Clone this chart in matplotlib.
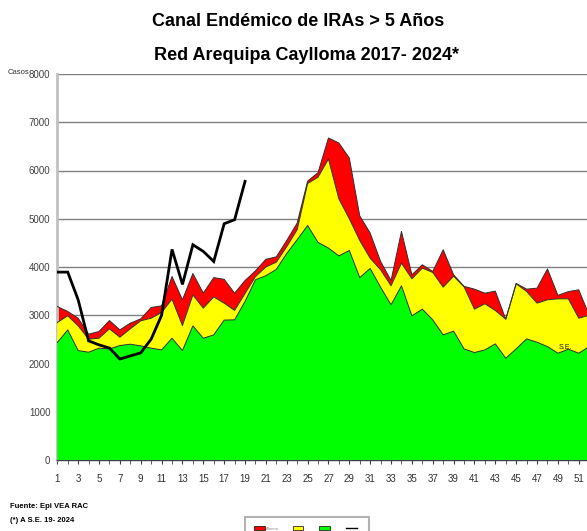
import matplotlib
matplotlib.use("Agg")
import matplotlib.pyplot as plt
from matplotlib.patches import Patch
from matplotlib.lines import Line2D

weeks = list(range(1, 53))
exito = [2434, 2697, 2268, 2234, 2317, 2303, 2372, 2400, 2365, 2317, 2282, 2524, 2268,
         2780, 2524, 2593, 2900, 2905, 3285, 3735, 3820, 3950, 4280, 4565, 4860, 4510,
         4392, 4230, 4343, 3780, 3970, 3580, 3216, 3610, 2988, 3126, 2905, 2593, 2670,
         2303, 2227, 2282, 2407, 2109, 2303, 2510, 2441, 2351, 2213, 2296, 2213, 2351]
seguridad = [2849, 2988, 2780, 2504, 2524, 2718, 2545, 2718, 2884, 2939, 3057, 3333, 2787,
             3420, 3147, 3380, 3250, 3100, 3450, 3800, 4000, 4100, 4420, 4772, 5730, 5860,
             6238, 5410, 5000, 4550, 4180, 3942, 3610, 4080, 3755, 3977, 3887, 3582, 3810,
             3590, 3126, 3237, 3098, 2918, 3652, 3492, 3251, 3320, 3340, 3340, 2939, 3000]
alarma = [3181, 3078, 2939, 2607, 2663, 2891, 2697, 2836, 2925, 3161, 3195, 3804, 3320,
          3865, 3458, 3780, 3745, 3458, 3720, 3920, 4160, 4210, 4550, 4910, 5780, 5955,
          6674, 6570, 6259, 5060, 4703, 4115, 3720, 4737, 3838, 4046, 3907, 4357, 3838,
          3600, 3541, 3458, 3500, 2918, 3660, 3541, 3562, 3960, 3413, 3490, 3527, 3000]
weeks_2024 = list(range(1, 20))
casos_2024 = [3894, 3894, 3320, 2470, 2386, 2320, 2092, 2158, 2220, 2505, 3000, 4365, 3640,
              4461, 4323, 4115, 4897, 4980, 5775]
xtick_labels = [str(w) for w in range(1, 52, 2)]
yticks = list(range(0, 8001, 1000))

font = ['Liberation Sans', 'DejaVu Sans']
W, H = 587, 531
fig = plt.figure(figsize=(W / 100, H / 100), dpi=100)
fig.patch.set_facecolor('white')

x0, x1 = 57.3, 589.2
y0, y1 = 460, 74
ax = fig.add_axes([x0 / W, 1 - y0 / H, (x1 - x0) / W, (y0 - y1) / H])
ax.set_xlim(1, 52)
ax.set_ylim(0, 8000)

for v in yticks[1:]:
    ax.axhline(v, color='#808080', lw=1.0, zorder=1)

edge = '#303030'
ax.fill_between(weeks, seguridad, alarma, facecolor='#ff0000', edgecolor='none', zorder=2)
ax.fill_between(weeks, exito, seguridad, facecolor='#ffff00', edgecolor='none', zorder=3)
ax.fill_between(weeks, 0, exito, facecolor='#00ff00', edgecolor='none', zorder=4)
ax.plot(weeks, alarma, color=edge, lw=0.7, zorder=5)
ax.plot(weeks, seguridad, color=edge, lw=0.7, zorder=5)
ax.plot(weeks, exito, color=edge, lw=0.7, zorder=5)
ax.plot(weeks_2024, casos_2024, color='black', lw=2.0, zorder=6, solid_joinstyle='miter')

ax.text(49.7, 2330, 'S.E.', fontsize=5, color='#202020', family=font, zorder=7,
        ha='center', va='center')

for s in ['top', 'right']:
    ax.spines[s].set_visible(False)
ax.spines['left'].set_color('#c0c0c0')
ax.spines['left'].set_linewidth(2)
ax.spines['bottom'].set_color('#404040')
ax.spines['bottom'].set_linewidth(1)
ax.set_yticks(yticks)
ax.set_yticklabels([str(v) for v in yticks], family=font, fontsize=7, color='#404040')
ax.tick_params(axis='y', length=0, pad=5)
ax.set_xticks(weeks, minor=True)
ax.set_xticks(list(range(1, 52, 2)))
ax.set_xticklabels(xtick_labels, family=font, fontsize=7, color='#303030')
ax.tick_params(axis='x', which='both', length=3, color='#404040', pad=7)

fig.text(8 / W, 1 - 73 / H, 'Casos', fontsize=5.5, family=font, color='#303030',
         ha='left', va='center')
fig.text(298 / W, 1 - 22 / H, 'Canal Endémico de IRAs > 5 Años', fontsize=13,
         fontweight='bold', family=font, ha='center', va='center')
fig.text(306 / W, 1 - 55 / H, 'Red Arequipa Caylloma 2017- 2024*', fontsize=13,
         fontweight='bold', family=font, ha='center', va='center')
fig.text(10 / W, 1 - 506 / H, 'Fuente: Epi VEA RAC', fontsize=5.5, fontweight='bold',
         family=font, ha='left', va='center')
fig.text(10 / W, 1 - 521 / H, '(*) A S.E. 19- 2024', fontsize=5.5, fontweight='bold',
         family=font, ha='left', va='center')

handles = [Patch(facecolor='#ff0000', edgecolor='black', lw=0.5),
           Patch(facecolor='#ffff00', edgecolor='black', lw=0.5),
           Patch(facecolor='#00ff00', edgecolor='black', lw=0.5),
           Line2D([0], [0], color='black', lw=1)]
labels = ['Alarma', '-', '-', '-']
leg = fig.legend(handles, labels, loc='upper left', bbox_to_anchor=(243 / W, 1 - 515 / H),
                 ncol=4, fontsize=3, handlelength=2.5, handleheight=1.0, handletextpad=0.4,
                 columnspacing=3.2, borderpad=2.2, frameon=True, fancybox=False,
                 edgecolor='#a0a0a0', prop={'family': font, 'size': 3})
for t in leg.get_texts():
    t.set_color('#909090')
leg.get_frame().set_linewidth(1.5)

fig.savefig('out.png', dpi=100, facecolor='white')
